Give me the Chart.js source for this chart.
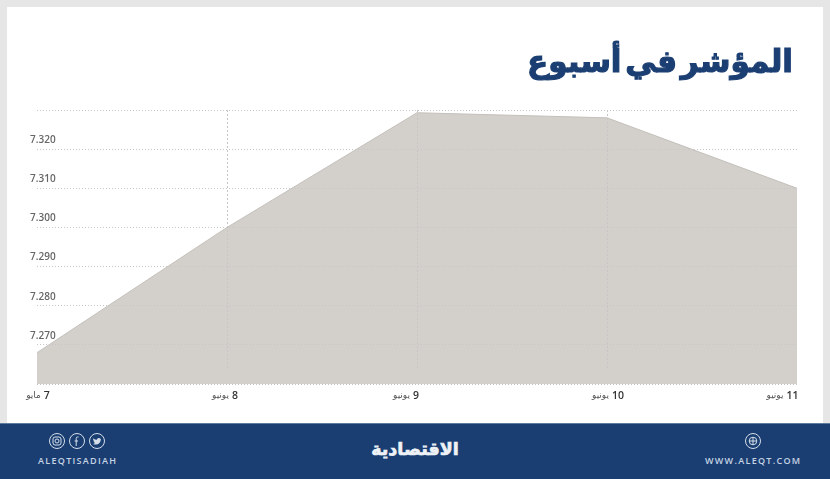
<!DOCTYPE html>
<html lang="ar">
<head>
<meta charset="utf-8">
<title>المؤشر في أسبوع</title>
<script src="https://cdn.jsdelivr.net/npm/chart.js@4"></script>
<style>
  html, body { margin: 0; padding: 0; }
  body { width: 830px; height: 479px; overflow: hidden; position: relative; background: #e6e6e6; }
  #panel { position: absolute; left: 7px; top: 7px; width: 816px; height: 416px; background: #fff; }
  #chart { position: absolute; left: 0; top: 0; width: 830px; height: 479px; }
  #title { position: absolute; right: 37px; top: 43px; margin: 0; direction: rtl; white-space: nowrap;
           font: bold 31px "DejaVu Sans", sans-serif; word-spacing: -7px; color: #1c3f73;
           -webkit-text-stroke: 1.2px #1c3f73; }
  #footer { position: absolute; left: 0; top: 423px; width: 830px; height: 56px; background: #1a3e72;
            border-top: 1px solid #5d7b9f; box-sizing: border-box; }
  .handle { position: absolute; font: 600 9px "Open Sans", sans-serif; letter-spacing: 1.3px; color: #c6d3e4; white-space: nowrap; }
  #logo { position: absolute; left: 315px; width: 200px; top: 15px; text-align: center; direction: rtl;
          font: bold 17.5px "DejaVu Sans", sans-serif; color: #eef2f6; -webkit-text-stroke: 0.7px #eef2f6; }
  svg.icons { position: absolute; left: 0; top: 0; }
  svg.icons * { fill: none; stroke: #d5dfea; stroke-width: 1; }
</style>
</head>
<body>
<div id="panel"></div>
<canvas id="chart" width="830" height="479"></canvas>
<h1 id="title">المؤشر في أسبوع</h1>
<div id="footer">
  <svg class="icons" width="830" height="56">
    <circle cx="57" cy="17" r="7.5"/><rect x="53" y="13" width="8" height="8" rx="2"/><circle cx="57" cy="17" r="2"/>
    <circle cx="77" cy="17" r="7.5"/><path d="M78.5 13h-1q-1.3 0-1.3 1.5V22M74.6 17h3.4"/>
    <circle cx="97" cy="17" r="7.5"/><path d="M93 20q4 1.5 6.5-1 1.5-2 1.3-4l-1.5-1q-2-.5-2.5 1.8-2 0-3.5-1.6-.7 2 1 3.2l-1 0q1 1.400 2 1.500z" style="fill:#d5dfea;stroke:none"/>
    <circle cx="753" cy="17" r="7.5"/><circle cx="753" cy="17" r="3.8"/><path d="M749.300 17h7.400M753 13.200v7.600"/>
  </svg>
  <div class="handle" style="left:38px;top:30px">ALEQTISADIAH</div>
  <div id="logo">الاقتصادية</div>
  <div class="handle" style="left:705px;top:30px">WWW.ALEQT.COM</div>
</div>
<script>
// --- Data ---
const categories = ["7 مايو", "8 يونيو", "9 يونيو", "10 يونيو", "11 يونيو"];
const indexValues = [7.268, 7.300, 7.3293, 7.328, 7.310];
const yTickLabels = ["7.270", "7.280", "7.290", "7.300", "7.310", "7.320"];

const GRID = "#c6c6c6";
// how far each date label sits from its tick, as in the original artwork
const labelNudge = [1, -2, -11, 1, -14.5];

// x labels and the short vertical guides are drawn off the library's scales
const dateAxis = {
  id: "dateAxis",
  afterDatasetsDraw(chart) {
    const { ctx, scales: { x, y } } = chart;
    ctx.save();
    ctx.strokeStyle = GRID;
    ctx.lineWidth = 1;
    ctx.setLineDash([2, 2]);
    [1, 2, 3].forEach(i => {
      const px = Math.round(x.getPixelForTick(i)) + 0.5;
      ctx.beginPath();
      ctx.moveTo(px, y.getPixelForValue(7.33));
      ctx.lineTo(px, y.getPixelForValue(7.2635));
      ctx.stroke();
    });
    ctx.setLineDash([]);
    ctx.textBaseline = "middle";
    ctx.textAlign = "left";
    categories.forEach((c, i) => {
      // number on the right, month on the left
      const [day, month] = c.split(" ");
      const dayFont = '600 10.5px "Open Sans", sans-serif';
      const monthFont = '9px "DejaVu Sans", sans-serif';
      ctx.font = dayFont;
      const dayW = ctx.measureText(day).width;
      ctx.font = monthFont;
      const monthW = ctx.measureText(month).width;
      const left = x.getPixelForTick(i) + labelNudge[i] - (dayW + monthW + 3) / 2;
      ctx.fillStyle = "#555";
      ctx.fillText(month, left, 396);
      ctx.font = dayFont;
      ctx.fillStyle = "#333";
      ctx.fillText(day, left + monthW + 3, 396);
    });
    ctx.restore();
  }
};

new Chart(document.getElementById("chart"), {
  type: "line",
  data: {
    labels: categories,
    datasets: [{
      data: indexValues,
      fill: "start",
      backgroundColor: "#d3cfcb",
      borderColor: "#c4c0bb",
      borderWidth: 1,
      tension: 0,
      pointRadius: 0,
    }],
  },
  options: {
    responsive: false,
    animation: false,
    devicePixelRatio: 1,
    layout: { padding: { left: 37, right: 33, top: 110, bottom: 87 } },
    plugins: { legend: { display: false }, tooltip: { enabled: false }, title: { display: false } },
    scales: {
      x: {
        offset: false,
        grid: { display: false },
        border: { display: false },
        ticks: { display: false },
      },
      y: {
        min: 7.26,
        max: 7.33,
        grid: {
          color: c => c.index === 0 ? "#c4c0bb" : GRID,
          z: 1,
          drawTicks: false,
        },
        border: { display: false, dash: [1, 2] },
        ticks: {
          stepSize: 0.01,
          mirror: true,
          padding: -2.33,
          labelOffset: -9,
          color: "#666",
          font: { family: "'Open Sans'", size: 10, weight: "600" },
          callback: v => yTickLabels.includes(v.toFixed(3)) ? v.toFixed(3) : "",
        },
      },
    },
  },
  plugins: [dateAxis],
});
</script>
</body>
</html>
